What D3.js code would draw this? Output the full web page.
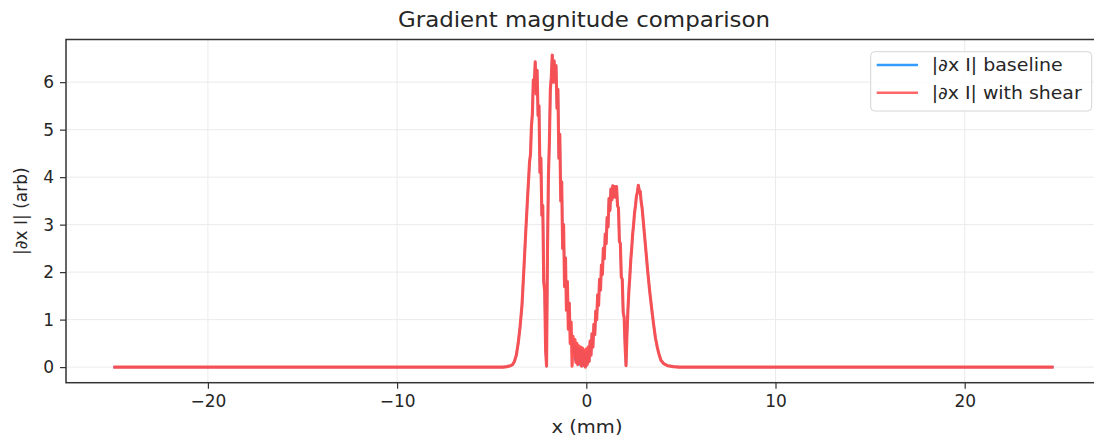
<!DOCTYPE html>
<html><head><meta charset="utf-8">
<script src="https://cdn.jsdelivr.net/npm/d3@7"></script>
<style>
body{margin:0;background:#fff;}
text{font-family:"DejaVu Sans",sans-serif;fill:#262626;}
</style></head>
<body><svg id="c" width="1094" height="444"></svg>
<script>
// ---- data ----
const title = "Gradient magnitude comparison";
const xLabel = "x (mm)";
const yLabel = "|∂x I| (arb)";
const seriesNames = ["|∂x I| baseline", "|∂x I| with shear"];
const xTicks = [-20, -10, 0, 10, 20];
const yTicks = [0, 1, 2, 3, 4, 5, 6];

const xs = [
 -25, -4.4, -4.2, -4.0, -3.9, -3.8, -3.7, -3.6, -3.5, -3.4, -3.3, -3.2, -3.1, -3.05,
 -3.00, -2.95, -2.90, -2.85, -2.80, -2.75, -2.70, -2.65, -2.60, -2.55,
 -2.50, -2.45, -2.40, -2.35, -2.30, -2.25, -2.20, -2.15, -2.10, -2.05,
 -2.00, -1.95, -1.90, -1.85, -1.80, -1.75, -1.70, -1.65, -1.60, -1.55,
 -1.50, -1.45, -1.40, -1.35, -1.30, -1.25, -1.20, -1.15, -1.10, -1.05,
 -1.00, -0.95, -0.90, -0.85, -0.80, -0.75, -0.70, -0.65, -0.60, -0.55,
 -0.50, -0.45, -0.40, -0.35, -0.30, -0.25, -0.20, -0.15, -0.10, -0.05,
 0.00, 0.05, 0.10, 0.15, 0.20, 0.25, 0.30, 0.35, 0.40, 0.45,
 0.50, 0.55, 0.60, 0.65, 0.70, 0.75, 0.80, 0.85, 0.90, 0.95,
 1.00, 1.05, 1.10, 1.15, 1.20, 1.25, 1.30, 1.35, 1.40, 1.45,
 1.50, 1.55, 1.60, 1.65, 1.70, 1.75, 1.80, 1.85, 1.90, 1.95,
 2.00, 2.05, 2.10,
 2.15, 2.20, 2.25, 2.30, 2.35, 2.40, 2.45, 2.50, 2.55, 2.60, 2.65, 2.70, 2.75, 2.80, 2.85, 2.90, 2.95,
 3.05, 3.15, 3.25, 3.35, 3.45, 3.55, 3.65, 3.75, 3.85, 3.95, 4.1, 4.3, 4.6, 4.9, 24.7
];

const shearY = [
 0, 0, 0.01, 0.03, 0.05, 0.12, 0.25, 0.5, 0.85, 1.3, 2.05, 2.85, 3.6, 3.95,
 4.32, 4.48, 5.07, 5.33, 6.05, 5.95, 6.43, 5.75, 6.25, 5.30,
 5.50, 4.10, 4.40, 3.20, 3.40, 1.80, 1.60, 0.35, 0.02, 2.50,
 4.05, 4.75, 5.85, 6.10, 6.57, 6.00, 6.45, 6.00, 6.35, 5.45,
 5.85, 4.40, 4.90, 3.50, 3.90, 2.50, 3.00, 1.70, 2.30, 1.20,
 1.80, 0.80, 1.35, 0.50, 0.95, 0.02, 0.65, 0.25, 0.58, 0.10,
 0.50, 0.05, 0.45, 0.08, 0.42, 0.02, 0.40, 0.04, 0.36, 0.00,
 0.38, 0.05, 0.42, 0.12, 0.55, 0.25, 0.70, 0.42, 0.90, 0.68,
 1.18, 1.00, 1.52, 1.30, 1.85, 1.62, 2.15, 1.95, 2.50, 2.28,
 2.80, 2.60, 3.15, 2.95, 3.55, 3.30, 3.75, 3.52, 3.82, 3.58,
 3.80, 3.58, 3.80, 3.40, 3.35, 2.65, 2.60, 1.90, 1.85, 1.15,
 1.05, 0.45, 0.03,
 0.70, 1.20, 1.60, 1.90, 2.25, 2.50, 2.80, 3.00, 3.25, 3.40, 3.60, 3.68, 3.83, 3.72, 3.70, 3.48, 3.35,
 2.90, 2.45, 2.00, 1.60, 1.25, 0.92, 0.63, 0.42, 0.26, 0.14, 0.07, 0.03, 0.01, 0, 0
];

const baselineY = [
 0, 0, 0.01, 0.03, 0.05, 0.12, 0.25, 0.5, 0.85, 1.3, 2.05, 2.85, 3.6, 3.95,
 4.32, 4.48, 5.07, 5.33, 6.05, 5.95, 6.43, 5.75, 6.25, 5.30,
 5.50, 4.10, 4.40, 3.20, 3.40, 1.80, 1.60, 0.35, 0.02, 2.50,
 4.05, 4.75, 5.85, 6.10, 6.57, 6.00, 6.45, 6.00, 6.35, 5.45,
 5.85, 4.40, 4.90, 3.50, 3.90, 2.50, 3.00, 1.70, 2.30, 1.20,
 1.80, 0.80, 1.35, 0.85, 0.60, 0.55, 0.30, 0.50, 0.15, 0.45,
 0.08, 0.40, 0.06, 0.38, 0.03, 0.35, 0.02, 0.33, 0.03, 0.30,
 0.02, 0.33, 0.10, 0.12, 0.55, 0.25, 0.70, 0.42, 0.90, 0.68,
 1.18, 1.00, 1.52, 1.30, 1.85, 1.62, 2.15, 1.95, 2.50, 2.28,
 2.80, 2.60, 3.15, 2.95, 3.55, 3.30, 3.75, 3.52, 3.82, 3.58,
 3.80, 3.58, 3.80, 3.40, 3.35, 2.65, 2.60, 1.90, 1.85, 1.15,
 1.05, 0.45, 0.03,
 0.70, 1.20, 1.60, 1.90, 2.25, 2.50, 2.80, 3.00, 3.25, 3.40, 3.60, 3.68, 3.83, 3.72, 3.70, 3.48, 3.35,
 2.90, 2.45, 2.00, 1.60, 1.25, 0.92, 0.63, 0.42, 0.26, 0.14, 0.07, 0.03, 0.01, 0, 0
];

// ---- layout ----
const svg = d3.select("#c");
const L = 66, R = 1106.6, T = 39.5, B = 382.7;
const x = d3.scaleLinear().domain([-27.5, 27.5]).range([L, R]);
const y = d3.scaleLinear().domain([-0.3285, 6.8985]).range([B, T]);

// grid
const g = svg.append("g");
g.selectAll(".gx").data(xTicks).join("line")
  .attr("x1", d => x(d)).attr("x2", d => x(d)).attr("y1", T).attr("y2", B)
  .attr("stroke", "#ebebeb").attr("stroke-width", 1);
g.selectAll(".gy").data(yTicks).join("line")
  .attr("x1", L).attr("x2", R).attr("y1", d => y(d)).attr("y2", d => y(d))
  .attr("stroke", "#ebebeb").attr("stroke-width", 1);

// lines
const pts = (ys) => xs.map((v, i) => [v, ys[i]]);
const line = d3.line().x(d => x(d[0])).y(d => y(d[1]));
svg.append("path").attr("d", line(pts(baselineY))).attr("fill", "none")
  .attr("stroke", "#1e90ff").attr("stroke-opacity", 0.9).attr("stroke-width", 2.2)
  .attr("stroke-linejoin", "round");
svg.append("path").attr("d", line(pts(shearY))).attr("fill", "none")
  .attr("stroke", "#ff4d4d").attr("stroke-opacity", 0.95).attr("stroke-width", 3.1)
  .attr("stroke-linejoin", "round");

// axes
const xAxis = d3.axisBottom(x).tickValues(xTicks).tickSize(6).tickPadding(6);
const yAxis = d3.axisLeft(y).tickValues(yTicks).tickSize(6).tickPadding(6);
const gx = svg.append("g").attr("transform", `translate(0,${B})`).call(xAxis);
const gy = svg.append("g").attr("transform", `translate(${L},0)`).call(yAxis);
[gx, gy].forEach(a => {
  a.select(".domain").remove();
  a.selectAll("line").attr("stroke", "#333").attr("stroke-width", 1.2);
  a.selectAll("text").attr("font-size", 17).attr("fill", "#262626")
    .style("font-family", '"DejaVu Sans", sans-serif');
});
// spines
svg.append("rect").attr("x", L).attr("y", T).attr("width", R - L).attr("height", B - T)
  .attr("fill", "none").attr("stroke", "#333").attr("stroke-width", 1.5);

// titles
svg.append("text").attr("x", 584).attr("y", 27).attr("text-anchor", "middle")
  .attr("font-size", 20.5).attr("textLength", 372).attr("lengthAdjust", "spacingAndGlyphs")
  .text(title);
svg.append("text").attr("x", 587).attr("y", 433).attr("text-anchor", "middle")
  .attr("font-size", 17).attr("textLength", 71).attr("lengthAdjust", "spacingAndGlyphs")
  .text(xLabel);
svg.append("text").attr("transform", `translate(27,${(T + B) / 2}) rotate(-90)`)
  .attr("text-anchor", "middle").attr("font-size", 17).text(yLabel);

// legend
const lg = svg.append("g");
lg.append("rect").attr("x", 870.7).attr("y", 51.7).attr("width", 221).attr("height", 59.3)
  .attr("rx", 4).attr("fill", "#fff").attr("fill-opacity", 0.85)
  .attr("stroke", "#d6d6d6").attr("stroke-width", 1);
const colors = ["#1e90ff", "#ff4d4d"];
const opac = [0.9, 0.85];
const legendW = [131, 150];
seriesNames.forEach((n, i) => {
  const yy = 65 + i * 27.7;
  lg.append("line").attr("x1", 876.7).attr("x2", 918).attr("y1", yy).attr("y2", yy)
    .attr("stroke", colors[i]).attr("stroke-opacity", opac[i]).attr("stroke-width", 2.4);
  lg.append("text").attr("x", 931.7).attr("y", yy + 6).attr("font-size", 17)
    .attr("textLength", legendW[i]).attr("lengthAdjust", "spacingAndGlyphs").text(n);
});
</script></body></html>
